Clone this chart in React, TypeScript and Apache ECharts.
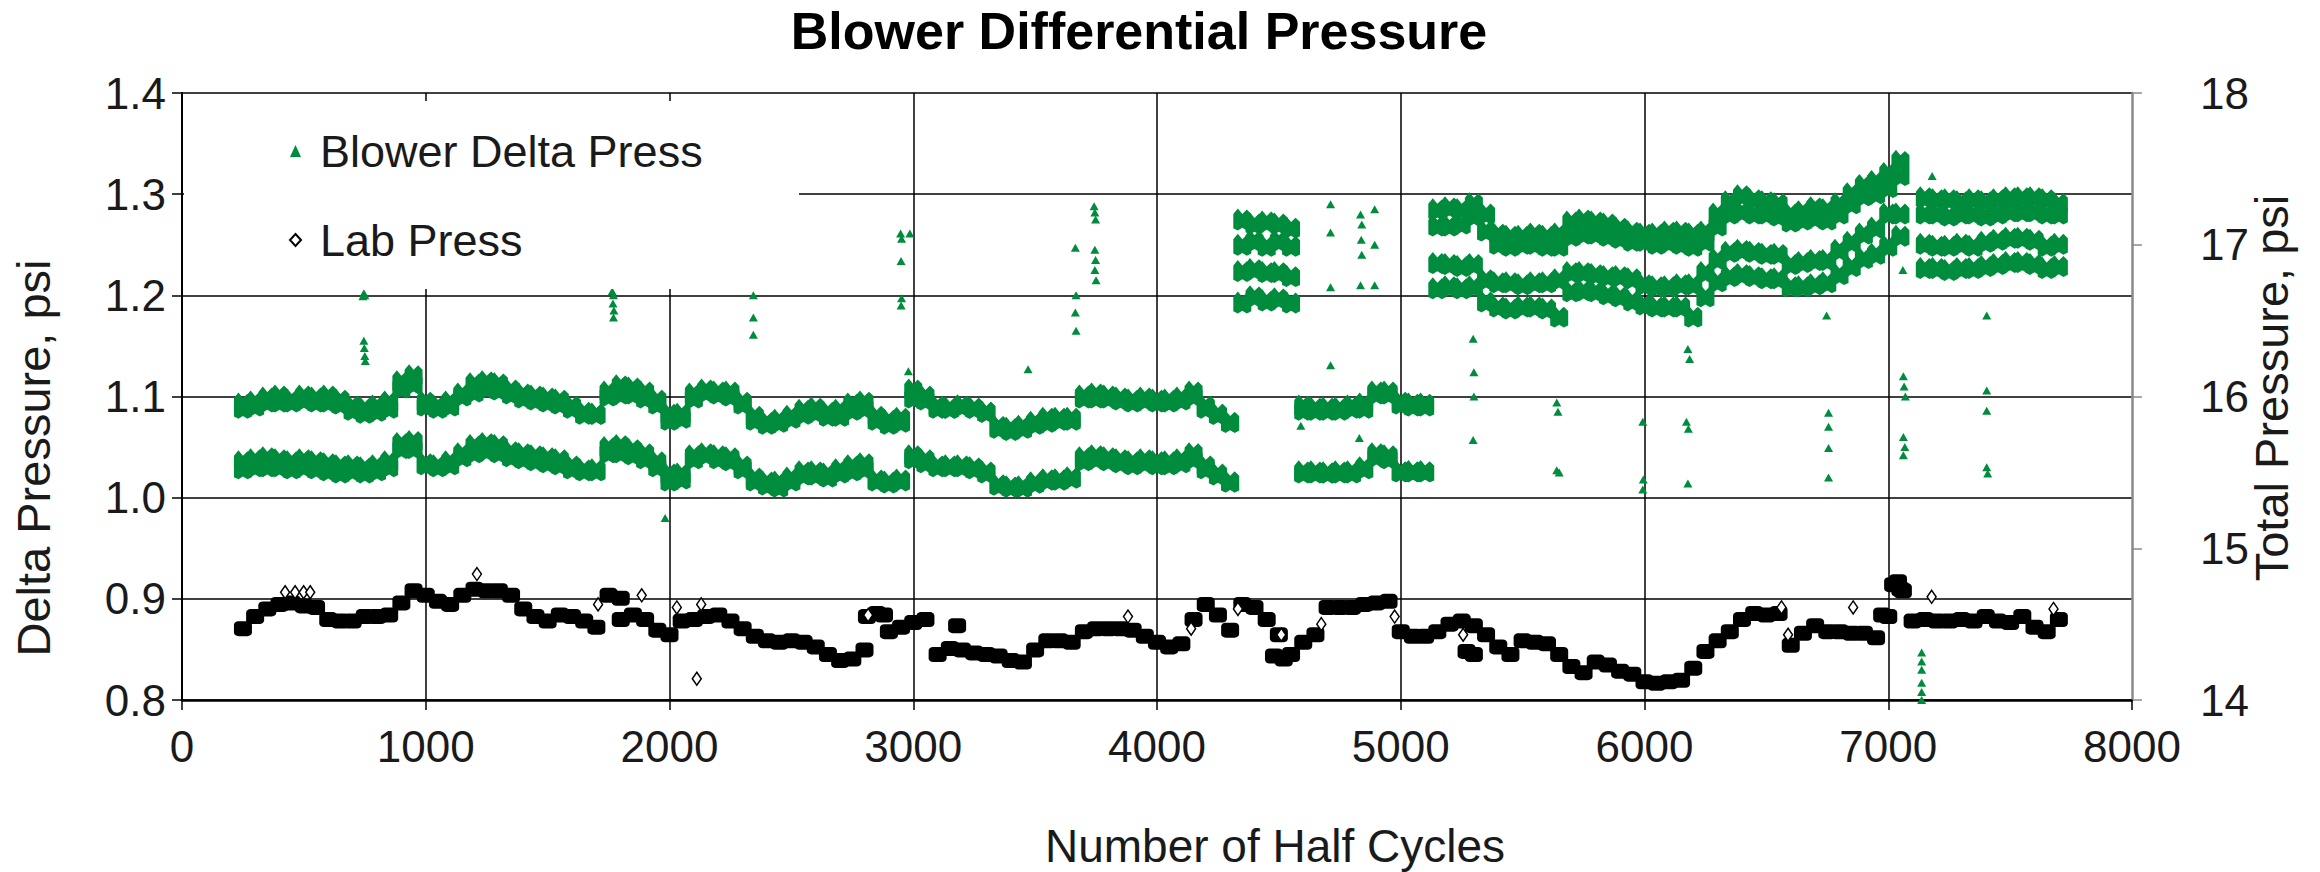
import React, { useEffect, useRef } from "react";
import * as echarts from "echarts";

// Number of half cycles (sample positions)
const cycles = [
  250, 300, 350, 400, 450, 500, 550, 600, 650, 700,
  750, 800, 850, 900, 950, 1000, 1050, 1100, 1150, 1200,
  1250, 1300, 1350, 1400, 1450, 1500, 1550, 1600, 1650, 1700,
  1750, 1800, 1850, 1900, 1950, 2000, 2050, 2100, 2150, 2200,
  2250, 2300, 2350, 2400, 2450, 2500, 2550, 2600, 2650, 2700,
  2750, 2800, 2850, 2900, 2950, 3000, 3050, 3100, 3150, 3200,
  3250, 3300, 3350, 3400, 3450, 3500, 3550, 3600, 3650, 3700,
  3750, 3800, 3850, 3900, 3950, 4000, 4050, 4100, 4150, 4200,
  4250, 4300, 4350, 4400, 4450, 4500, 4550, 4600, 4650, 4700,
  4750, 4800, 4850, 4900, 4950, 5000, 5050, 5100, 5150, 5200,
  5250, 5300, 5350, 5400, 5450, 5500, 5550, 5600, 5650, 5700,
  5750, 5800, 5850, 5900, 5950, 6000, 6050, 6100, 6150, 6200,
  6250, 6300, 6350, 6400, 6450, 6500, 6550, 6600, 6650, 6700,
  6750, 6800, 6850, 6900, 6950, 7000, 7050, 7100, 7150, 7200,
  7250, 7300, 7350, 7400, 7450, 7500, 7550, 7600, 7650, 7700,
];

// Blower delta pressure, upper band: top and bottom of the point cloud (psi)
const upperHi = [
  1.093, 1.095, 1.099, 1.101, 1.097, 1.101, 1.099, 1.101, 1.097, 1.091,
  1.089, 1.091, 1.095, 1.115, 1.121, 1.095, 1.091, 1.095, 1.103, 1.113,
  1.115, 1.113, 1.107, 1.103, 1.101, 1.099, 1.097, 1.091, 1.085, 1.083,
  1.105, 1.111, 1.109, 1.105, 1.097, 1.083, 1.083, 1.103, 1.107, 1.105,
  1.105, 1.095, 1.081, 1.075, 1.077, 1.081, 1.087, 1.089, 1.085, 1.087,
  1.093, 1.095, 1.081, 1.077, 1.079, 1.107, 1.101, 1.091, 1.089, 1.091,
  1.089, 1.085, 1.071, 1.069, 1.071, 1.075, 1.079, 1.079, 1.079, 1.101,
  1.103, 1.101, 1.099, 1.097, 1.099, 1.097, 1.097, 1.099, 1.105, 1.091,
  1.083, 1.075, 1.275, 1.271, 1.273, 1.271, 1.267, 1.091, 1.089, 1.089,
  1.089, 1.091, 1.093, 1.105, 1.105, 1.095, 1.093, 1.093, 1.285, 1.287,
  1.285, 1.291, 1.281, 1.261, 1.259, 1.259, 1.261, 1.259, 1.261, 1.273,
  1.275, 1.273, 1.271, 1.267, 1.263, 1.261, 1.261, 1.263, 1.263, 1.261,
  1.263, 1.281, 1.293, 1.299, 1.295, 1.293, 1.291, 1.281, 1.283, 1.287,
  1.285, 1.291, 1.301, 1.309, 1.313, 1.321, 1.333, null, 1.297, 1.295,
  1.295, 1.293, 1.295, 1.293, 1.295, 1.297, 1.297, 1.297, 1.295, 1.291,
];
const upperLo = [
  1.089, 1.091, 1.095, 1.095, 1.095, 1.097, 1.095, 1.095, 1.093, 1.087,
  1.084, 1.086, 1.089, 1.109, 1.113, 1.091, 1.089, 1.091, 1.101, 1.105,
  1.109, 1.107, 1.103, 1.099, 1.097, 1.095, 1.093, 1.089, 1.083, 1.083,
  1.101, 1.103, 1.103, 1.099, 1.093, 1.077, 1.079, 1.099, 1.105, 1.103,
  1.101, 1.093, 1.077, 1.073, 1.075, 1.079, 1.083, 1.085, 1.081, 1.081,
  1.087, 1.089, 1.077, 1.073, 1.075, 1.099, 1.097, 1.089, 1.089, 1.091,
  1.089, 1.085, 1.069, 1.067, 1.069, 1.073, 1.075, 1.077, 1.077, 1.099,
  1.099, 1.099, 1.097, 1.095, 1.097, 1.095, 1.095, 1.097, 1.101, 1.089,
  1.083, 1.075, 1.25, 1.254, 1.249, 1.254, 1.249, 1.087, 1.087, 1.087,
  1.087, 1.089, 1.089, 1.103, 1.103, 1.093, 1.091, 1.091, 1.269, 1.269,
  1.271, 1.279, 1.264, 1.251, 1.249, 1.251, 1.251, 1.249, 1.249, 1.259,
  1.261, 1.261, 1.259, 1.257, 1.254, 1.254, 1.251, 1.253, 1.251, 1.249,
  1.254, 1.269, 1.281, 1.283, 1.281, 1.281, 1.279, 1.273, 1.275, 1.277,
  1.275, 1.281, 1.291, 1.299, 1.301, 1.307, 1.319, null, 1.281, 1.281,
  1.279, 1.281, 1.281, 1.279, 1.281, 1.283, 1.283, 1.283, 1.281, 1.281,
];

// Blower delta pressure, lower band: top and bottom of the point cloud (psi)
const lowerHi = [
  1.036, 1.038, 1.04, 1.038, 1.036, 1.038, 1.036, 1.034, 1.032, 1.032,
  1.03, 1.032, 1.036, 1.054, 1.056, 1.034, 1.032, 1.036, 1.044, 1.052,
  1.054, 1.052, 1.046, 1.044, 1.042, 1.04, 1.038, 1.032, 1.028, 1.028,
  1.05, 1.052, 1.048, 1.044, 1.036, 1.024, 1.024, 1.042, 1.044, 1.042,
  1.04, 1.032, 1.02, 1.016, 1.016, 1.02, 1.026, 1.026, 1.024, 1.028,
  1.032, 1.034, 1.018, 1.016, 1.018, 1.042, 1.038, 1.032, 1.032, 1.032,
  1.03, 1.026, 1.013, 1.011, 1.011, 1.015, 1.018, 1.018, 1.02, 1.04,
  1.042, 1.04, 1.038, 1.036, 1.038, 1.036, 1.036, 1.038, 1.044, 1.032,
  1.024, 1.016, 1.224, 1.226, 1.223, 1.223, 1.219, 1.026, 1.026, 1.025,
  1.026, 1.026, 1.03, 1.044, 1.042, 1.026, 1.026, 1.026, 1.232, 1.231,
  1.229, 1.231, 1.216, 1.213, 1.213, 1.211, 1.213, 1.213, 1.216, 1.223,
  1.223, 1.221, 1.219, 1.219, 1.217, 1.211, 1.209, 1.209, 1.211, 1.211,
  1.223, 1.236, 1.243, 1.245, 1.243, 1.241, 1.241, 1.231, 1.233, 1.235,
  1.235, 1.245, 1.253, 1.261, 1.267, 1.281, 1.281, null, 1.251, 1.249,
  1.249, 1.251, 1.249, 1.253, 1.255, 1.257, 1.257, 1.255, 1.249, 1.251,
];
const lowerLo = [
  1.029, 1.031, 1.031, 1.031, 1.029, 1.031, 1.029, 1.027, 1.025, 1.027,
  1.025, 1.027, 1.031, 1.049, 1.049, 1.033, 1.031, 1.033, 1.041, 1.045,
  1.047, 1.045, 1.041, 1.039, 1.037, 1.035, 1.033, 1.029, 1.027, 1.027,
  1.045, 1.045, 1.043, 1.039, 1.031, 1.017, 1.019, 1.039, 1.043, 1.039,
  1.037, 1.029, 1.017, 1.013, 1.011, 1.017, 1.023, 1.023, 1.021, 1.025,
  1.027, 1.029, 1.017, 1.015, 1.017, 1.039, 1.035, 1.031, 1.031, 1.031,
  1.029, 1.025, 1.013, 1.011, 1.011, 1.015, 1.018, 1.018, 1.02, 1.037,
  1.039, 1.037, 1.035, 1.033, 1.035, 1.033, 1.033, 1.035, 1.039, 1.029,
  1.023, 1.016, 1.193, 1.199, 1.195, 1.197, 1.193, 1.025, 1.025, 1.025,
  1.025, 1.025, 1.029, 1.041, 1.039, 1.026, 1.026, 1.026, 1.207, 1.209,
  1.207, 1.209, 1.194, 1.189, 1.187, 1.189, 1.189, 1.187, 1.179, 1.204,
  1.205, 1.204, 1.201, 1.199, 1.195, 1.191, 1.189, 1.189, 1.189, 1.179,
  1.199, 1.214, 1.219, 1.221, 1.219, 1.217, 1.217, 1.209, 1.209, 1.211,
  1.213, 1.221, 1.229, 1.237, 1.241, 1.249, 1.259, null, 1.227, 1.227,
  1.225, 1.227, 1.227, 1.229, 1.231, 1.233, 1.233, 1.231, 1.227, 1.229,
];

// Isolated blower delta pressure readings (transients)
const spikeCycles = [
  746, 750, 742, 746, 748, 750, 752,
  1765, 1770, 1768, 1772, 1770, 1982,
  2344, 2344, 2344,
  2948, 2952, 2950, 2952, 2950, 2986, 2980,
  3471, 3665, 3668, 3665, 3668,
  3742, 3745, 3748, 3745, 3748, 3745, 3750,
  4590, 4712, 4712, 4712, 4712,
  4835, 4840, 4838, 4840, 4835, 4893, 4893, 4893, 4830,
  5297, 5300, 5300, 5297,
  5640, 5645, 5640, 5650,
  5993, 5995, 5993,
  6178, 6185, 6172, 6180, 6178,
  6747, 6755, 6755, 6755, 6755,
  7060, 7062, 7065, 7070, 7062, 7068, 7062,
  7137, 7137, 7137, 7137, 7137, 7137, 7180,
  7404, 7404, 7404, 7404, 7408,
];
const spikeDelta = [
  1.202, 1.2, 1.199, 1.155, 1.148, 1.14, 1.135,
  1.204, 1.2, 1.192, 1.185, 1.178, 0.98,
  1.2, 1.178, 1.161,
  1.261, 1.256, 1.234, 1.197, 1.19, 1.261, 1.125,
  1.127, 1.247, 1.2, 1.183, 1.165,
  1.288, 1.282, 1.275, 1.245, 1.235, 1.225, 1.215,
  1.071, 1.29, 1.262, 1.208, 1.131,
  1.28, 1.27, 1.255, 1.24, 1.21, 1.285, 1.25, 1.21, 1.059,
  1.157, 1.124, 1.1, 1.057,
  1.094, 1.085, 1.027, 1.025,
  1.075, 1.018, 1.008,
  1.147, 1.137, 1.075, 1.068, 1.014,
  1.18, 1.084, 1.07, 1.049, 1.02,
  1.225, 1.12, 1.11, 1.1, 1.06, 1.05, 1.042,
  0.847, 0.838, 0.83, 0.817, 0.808, 0.8, 1.318,
  1.18, 1.106, 1.086, 1.03, 1.024,
];

// Lab (total) pressure, psi, at the same half-cycle positions
const labPsi = [
  14.47, 14.55, 14.6, 14.63, 14.64, 14.62, 14.61, 14.53, 14.52, 14.52,
  14.55, 14.55, 14.56, 14.64, 14.72, 14.69, 14.65, 14.63, 14.69, 14.73,
  14.72, 14.72, 14.69, 14.6, 14.55, 14.52, 14.56, 14.55, 14.52, 14.48,
  14.69, 14.67, 14.56, 14.53, 14.46, 14.43, 14.52, 14.53, 14.55, 14.56,
  14.52, 14.47, 14.42, 14.39, 14.38, 14.39, 14.38, 14.35, 14.3, 14.26,
  14.27, 14.33, 14.57, 14.45, 14.48, 14.51, 14.53, 14.3, 14.34, 14.33,
  14.31, 14.3, 14.29, 14.26, 14.25, 14.33, 14.39, 14.39, 14.38, 14.45,
  14.47, 14.47, 14.47, 14.46, 14.42, 14.38, 14.35, 14.37, 14.53, 14.63,
  14.56, 14.46, 14.63, 14.61, 14.53, 14.43, 14.3, 14.38, 14.43, 14.61,
  14.61, 14.61, 14.63, 14.64, 14.65, 14.45, 14.42, 14.42, 14.45, 14.5,
  14.52, 14.49, 14.43, 14.35, 14.3, 14.39, 14.38, 14.37, 14.3, 14.22,
  14.18, 14.25, 14.23, 14.19, 14.17, 14.12, 14.11, 14.12, 14.13, 14.21,
  14.32, 14.39, 14.45, 14.53, 14.57, 14.56, 14.57, 14.36, 14.44, 14.49,
  14.45, 14.45, 14.44, 14.44, 14.41, 14.55, 14.73, 14.52, 14.53, 14.52,
  14.52, 14.53, 14.52, 14.55, 14.52, 14.51, 14.55, 14.48, 14.45, 14.53,
];

// Extra lab pressure readings on secondary branches
const labExtraCycles = [1800, 2810, 2880, 3180, 4480, 4520, 5270, 5300, 6975, 7020, 7040, 7060];
const labExtraPsi = [14.53, 14.55, 14.56, 14.49, 14.29, 14.27, 14.32, 14.3, 14.56, 14.76, 14.78, 14.72];

// Isolated lab pressure readings (open diamonds)
const labDotCycles = [423, 464, 499, 526, 1210, 1707, 1886, 2030, 2130, 2112, 2815, 3881, 4140, 4332, 4510, 4674, 4975, 5256, 6562, 6589, 6856, 7178, 7678];
const labDotPsi = [14.71, 14.71, 14.71, 14.71, 14.83, 14.63, 14.69, 14.61, 14.63, 14.14, 14.56, 14.55, 14.47, 14.6, 14.43, 14.5, 14.55, 14.43, 14.61, 14.43, 14.61, 14.68, 14.6];

const GREEN = "#008C3D";
const FONT = "Liberation Sans, Arial, sans-serif";
// a tight cluster of overlapping triangles, as the dense readings look
const CLUSTER = "path://M0,5 L4,0 L8,5 L12,1 L16,5 L16,18 L12,20 L8,17.5 L4,20 L0,18 Z";

function pairs(xs: number[], ys: (number | null)[]) {
  const out: number[][] = [];
  xs.forEach((x, i) => {
    const y = ys[i];
    if (y !== null && y !== undefined) out.push([x, y]);
  });
  return out;
}

function txt(text: string, x: number, y: number, size: number, extra: any = {}) {
  return {
    type: "text",
    x,
    y,
    rotation: extra.rotation || 0,
    style: {
      text,
      fontSize: size,
      fontWeight: extra.bold ? "bold" : "normal",
      fontFamily: FONT,
      fill: extra.color || "#1a1a1a",
      align: "center",
      verticalAlign: "middle",
      textAlign: "center",
      textVerticalAlign: "middle",
    },
  };
}

export default function App() {
  const ref = useRef<HTMLDivElement>(null);
  useEffect(() => {
    if (!ref.current) return;
    const chart = echarts.init(ref.current, null, { renderer: "svg" });
    const bandSeries = (ys: (number | null)[]) => ({
      type: "scatter",
      name: "Blower Delta Press",
      data: pairs(cycles, ys),
      symbol: CLUSTER,
      symbolSize: [18, 22],
      itemStyle: { color: GREEN, opacity: 1 },
      z: 2,
    });
    const labStyle = {
      type: "scatter",
      name: "Lab Press",
      yAxisIndex: 1,
      symbol: "roundRect",
      symbolSize: [18, 15],
      itemStyle: { color: "#000", opacity: 1 },
      z: 2,
    };
    chart.setOption({
      animation: false,
      backgroundColor: "#fff",
      grid: { left: 182, right: 188, top: 93, bottom: 172 },
      xAxis: {
        type: "value",
        min: 0,
        max: 8000,
        interval: 1000,
        axisLine: { lineStyle: { color: "#000", width: 2.5 } },
        axisTick: { show: true, length: 10, lineStyle: { color: "#000", width: 1.5 } },
        axisLabel: {
          fontSize: 44,
          color: "#1a1a1a",
          fontFamily: FONT,
          margin: 24,
          formatter: (v: number) => String(v),
        },
        splitLine: { show: true, showMaxLine: false, lineStyle: { color: "#000", width: 1.5 } },
      },
      yAxis: [
        {
          type: "value",
          min: 0.8,
          max: 1.4,
          interval: 0.1,
          axisLine: { show: true, lineStyle: { color: "#000", width: 2 } },
          axisTick: { show: true, length: 10, lineStyle: { color: "#000", width: 1.5 } },
          axisLabel: {
            fontSize: 44,
            color: "#1a1a1a",
            fontFamily: FONT,
            margin: 16,
            formatter: (v: number) => v.toFixed(1),
          },
          splitLine: { show: true, lineStyle: { color: "#000", width: 1.5 } },
        },
        {
          type: "value",
          min: 14,
          max: 18,
          interval: 1,
          position: "right",
          axisLine: { show: true, lineStyle: { color: "#8a8a8a", width: 2.5 } },
          axisTick: { show: true, length: 10, lineStyle: { color: "#8a8a8a", width: 1.5 } },
          axisLabel: { fontSize: 44, color: "#1a1a1a", fontFamily: FONT, margin: 68 },
          splitLine: { show: false },
        },
      ],
      legend: {
        orient: "vertical",
        left: 284,
        top: 121,
        itemGap: 39,
        itemWidth: 11,
        itemHeight: 12,
        selectedMode: false,
        z: 5,
        textStyle: { fontSize: 45, color: "#1a1a1a", fontFamily: FONT, lineHeight: 50, padding: [0, 0, 0, 14] },
        data: [
          { name: "Blower Delta Press", icon: "triangle", itemStyle: { color: GREEN, opacity: 1 } },
          { name: "Lab Press", icon: "diamond", itemStyle: { color: "#fff", borderColor: "#000", borderWidth: 2, opacity: 1 } },
        ],
      },
      graphic: [
        {
          type: "rect",
          z: 3,
          shape: { x: 184, y: 101, width: 615, height: 188 },
          style: { fill: "#fff" },
        },
        txt("Blower Differential Pressure", 1139, 31, 52, { bold: true, color: "#000" }),
        txt("Number of Half Cycles", 1275, 846, 46),
        txt("Delta Pressure, psi", 33, 458, 47, { rotation: Math.PI / 2 }),
        txt("Total Pressure, psi", 2271, 388, 47, { rotation: Math.PI / 2 }),
      ],
      series: [
        bandSeries(upperHi),
        bandSeries(upperLo),
        bandSeries(lowerHi),
        bandSeries(lowerLo),
        {
          type: "scatter",
          name: "Blower Delta Press",
          data: pairs(spikeCycles, spikeDelta),
          symbol: "triangle",
          symbolSize: [9, 8],
          itemStyle: { color: GREEN, opacity: 1 },
          z: 2,
        },
        { ...labStyle, data: pairs(cycles, labPsi) },
        { ...labStyle, data: pairs(labExtraCycles, labExtraPsi) },
        {
          type: "scatter",
          name: "Lab Press",
          yAxisIndex: 1,
          data: pairs(labDotCycles, labDotPsi),
          symbol: "diamond",
          symbolSize: [9, 13],
          itemStyle: { color: "#fff", borderColor: "#000", borderWidth: 1.5, opacity: 1 },
          z: 2,
        },
      ],
    });
    return () => chart.dispose();
  }, []);
  return (
    <div
      ref={ref}
      style={{ position: "fixed", left: 0, top: 0, width: 2320, height: 872, background: "#fff" }}
    />
  );
}
